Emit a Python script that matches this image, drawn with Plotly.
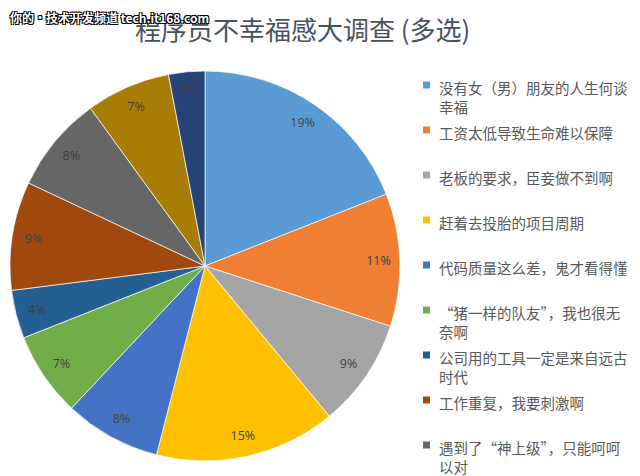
import plotly.graph_objects as go

# ---- data ----
labels = [
    "没有女（男）朋友的人生何谈幸福",
    "工资太低导致生命难以保障",
    "老板的要求，臣妾做不到啊",
    "赶着去投胎的项目周期",
    "代码质量这么差，鬼才看得懂",
    "“猪一样的队友”，我也很无奈啊",
    "公司用的工具一定是来自远古时代",
    "工作重复，我要刺激啊",
    "遇到了“神上级”，只能呵呵以对",
    "其他（一）",
    "其他（二）",
]
values = [19, 11, 9, 15, 8, 7, 4, 9, 8, 7, 3]
legend_lines = [
    "没有女（男）朋友的人生何谈<br>幸福",
    "工资太低导致生命难以保障",
    "老板的要求，臣妾做不到啊",
    "赶着去投胎的项目周期",
    "代码质量这么差，鬼才看得懂",
    "“猪一样的队友”，我也很无<br>奈啊",
    "公司用的工具一定是来自远古<br>时代",
    "工作重复，我要刺激啊",
    "遇到了“神上级”，只能呵呵<br>以对",
]
colors = ["#5B9BD5", "#EE7F33", "#A5A5A5", "#FFC000", "#4472C4", "#70AD47",
          "#255E91", "#A0490F", "#666666", "#A87D06", "#264478"]
pct_text = [f"{v}%" for v in values]

W, H = 640, 476
fig = go.Figure()

# pie centre ~ (205, 266), radius ~195 px
dom_x = [10 / W, 400 / W]
dom_y = [(H - 461) / H, (H - 71) / H]

fig.add_trace(go.Pie(
    labels=labels, values=values, sort=False, direction="clockwise", rotation=0,
    marker=dict(colors=colors, line=dict(color="rgba(255,255,255,0.7)", width=1)),
    textinfo="none", hoverinfo="label+percent", domain=dict(x=dom_x, y=dom_y),
    showlegend=False,
))
# transparent ring carrying the percentage labels near the rim
fig.add_trace(go.Pie(
    labels=labels, values=values, sort=False, direction="clockwise", rotation=0,
    hole=0.78,
    marker=dict(colors=["rgba(0,0,0,0)"] * len(values), line=dict(width=0)),
    text=pct_text, textinfo="text", textposition="inside",
    insidetextorientation="horizontal",
    textfont=dict(family="Open Sans", size=12.5, color="#404040"),
    hoverinfo="skip", domain=dict(x=dom_x, y=dom_y), showlegend=False,
))

annotations = []
shapes = []
# manual legend
for i, txt in enumerate(legend_lines):
    yc = 85 + 45.0 * i
    annotations.append(dict(
        x=437 / W, y=1 - (yc - 10) / H, xref="paper", yref="paper",
        xanchor="left", yanchor="top", text=txt, showarrow=False, align="left",
        font=dict(family="Noto Sans CJK SC", size=14.5, color="#595959"),
    ))
    shapes.append(dict(
        type="rect", xref="paper", yref="paper",
        x0=423 / W, x1=430 / W, y0=1 - (yc + 3.5) / H, y1=1 - (yc - 3.5) / H,
        fillcolor=colors[i], line=dict(width=0),
    ))

# title
annotations.append(dict(
    x=302 / W, y=1 - 28 / H, xref="paper", yref="paper", xanchor="center",
    yanchor="middle", text="程序员不幸福感大调查 (多选)", showarrow=False,
    font=dict(family="Noto Sans CJK SC", size=26, color="#48525E"),
))
# watermark
annotations.append(dict(
    x=8 / W, y=1 - 18 / H, xref="paper", yref="paper", xanchor="left",
    yanchor="middle", text="<b>你的·技术开发频道 tech.it168.com</b>", showarrow=False,
    font=dict(family="Noto Sans CJK SC", size=12, color="white",
              shadow="1px 1px 0 #000, -1px -1px 0 #000, 1px -1px 0 #000, -1px 1px 0 #000"),
))

fig.update_layout(
    width=W, height=H, margin=dict(l=0, r=0, t=0, b=0),
    paper_bgcolor="white", plot_bgcolor="white",
    annotations=annotations, shapes=shapes, showlegend=False,
)
fig.write_html("out.html")
